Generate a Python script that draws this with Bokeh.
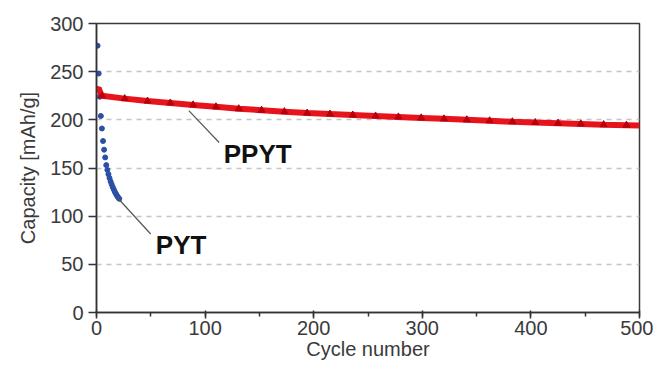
from bokeh.plotting import figure
from bokeh.models import Range1d, SingleIntervalTicker, Label
from bokeh.embed import file_html
from bokeh.resources import INLINE

# ---- data ----
pyt_cycle = [1, 2, 3, 4, 5, 6, 7, 8, 9, 10, 11, 12, 13, 14, 15, 16, 17, 18, 19, 20, 21]
pyt_capacity = [277, 248, 224, 204, 191, 178, 169, 161, 153, 148, 143.5, 139.5, 136,
                133, 130, 127.5, 125, 123, 121, 119.5, 118]

ppyt_cycle = [1, 2, 3, 4, 5, 26, 47, 68, 89, 110, 131, 152, 173, 194, 215, 236, 257,
              278, 299, 320, 341, 362, 383, 404, 425, 446, 467, 488, 500]
ppyt_capacity = [232, 233, 230, 227, 225, 222, 219.5, 217.5, 215.5, 213.5, 211.5, 210,
                 208.5, 207, 206, 205, 204, 203, 202, 201, 200, 199, 198, 197.2, 196.5,
                 195.8, 195, 194.5, 194]
# cycles carrying the symbol markers on the PPYT curve
ppyt_marker_cycle = ppyt_cycle[4:-1]
ppyt_marker_capacity = ppyt_capacity[4:-1]

x_ticks_interval = 100
y_ticks_interval = 50

FONT = "Liberation Sans"

p = figure(width=653, height=365, output_backend="svg", toolbar_location=None,
           x_range=Range1d(0, 500), y_range=Range1d(0, 300),
           min_border_left=96, min_border_right=14, min_border_top=23,
           min_border_bottom=53)
p.background_fill_color = "white"
p.border_fill_color = "white"
p.outline_line_color = "#3a3a3a"
p.outline_line_width = 1.5

# grid
p.xgrid.grid_line_color = None
p.ygrid.grid_line_color = "#c4c4c4"
p.ygrid.grid_line_dash = "5 5"
p.ygrid.grid_line_width = 1.5

# axes
p.xaxis.ticker = SingleIntervalTicker(interval=x_ticks_interval, num_minor_ticks=2)
p.yaxis.ticker = SingleIntervalTicker(interval=y_ticks_interval, num_minor_ticks=0)
for ax in (p.xaxis[0], p.yaxis[0]):
    ax.axis_line_color = "#333333"
    ax.axis_line_width = 1.5
    ax.major_tick_line_color = "#333333"
    ax.major_tick_line_width = 1.5
    ax.minor_tick_line_color = "#333333"
    ax.minor_tick_line_width = 1.5
    ax.major_label_text_font = FONT
    ax.major_label_text_font_size = "20px"
    ax.major_label_text_color = "#3a3a3a"
    ax.axis_label_text_font = FONT
    ax.axis_label_text_font_size = "20px"
    ax.axis_label_text_font_style = "normal"
    ax.axis_label_text_color = "#3a3a3a"
p.xaxis.major_tick_out = 6
p.xaxis.major_tick_in = 2
p.xaxis.minor_tick_out = 4
p.xaxis.minor_tick_in = 0
p.xaxis.major_label_standoff = 2
p.xaxis.axis_label = "Cycle number"
p.xaxis.axis_label_standoff = 0
p.yaxis.major_tick_out = 8
p.yaxis.major_tick_in = 0
p.yaxis.major_label_standoff = 5
p.yaxis.axis_label = "Capacity [mAh/g]"
p.yaxis.axis_label_standoff = 8

# PYT dots
p.scatter(pyt_cycle, pyt_capacity, size=5, color="#2c4fa6", line_color="#2c4fa6")

# PPYT thick line + markers
p.line(ppyt_cycle, ppyt_capacity, line_color="#e8141c", line_width=6)
p.scatter(ppyt_marker_cycle, ppyt_marker_capacity, marker="triangle", size=7,
          color="#b5000e", line_color="#b5000e")

# leader lines
p.line([19.1, 49.9], [119.4, 81.5], line_color="#555555", line_width=1.2)
p.line([85, 112.9], [209.5, 176.5], line_color="#555555", line_width=1.2)

# series labels
p.add_layout(Label(x=54.6, y=70.3, text="PYT", text_font=FONT, text_font_size="26px",
                   text_font_style="bold", text_color="#111111", text_baseline="alphabetic"))
p.add_layout(Label(x=117.2, y=164.4, text="PPYT", text_font=FONT, text_font_size="26px",
                   text_font_style="bold", text_color="#111111", text_baseline="alphabetic"))

open("out.html", "w").write(file_html(p, INLINE))
